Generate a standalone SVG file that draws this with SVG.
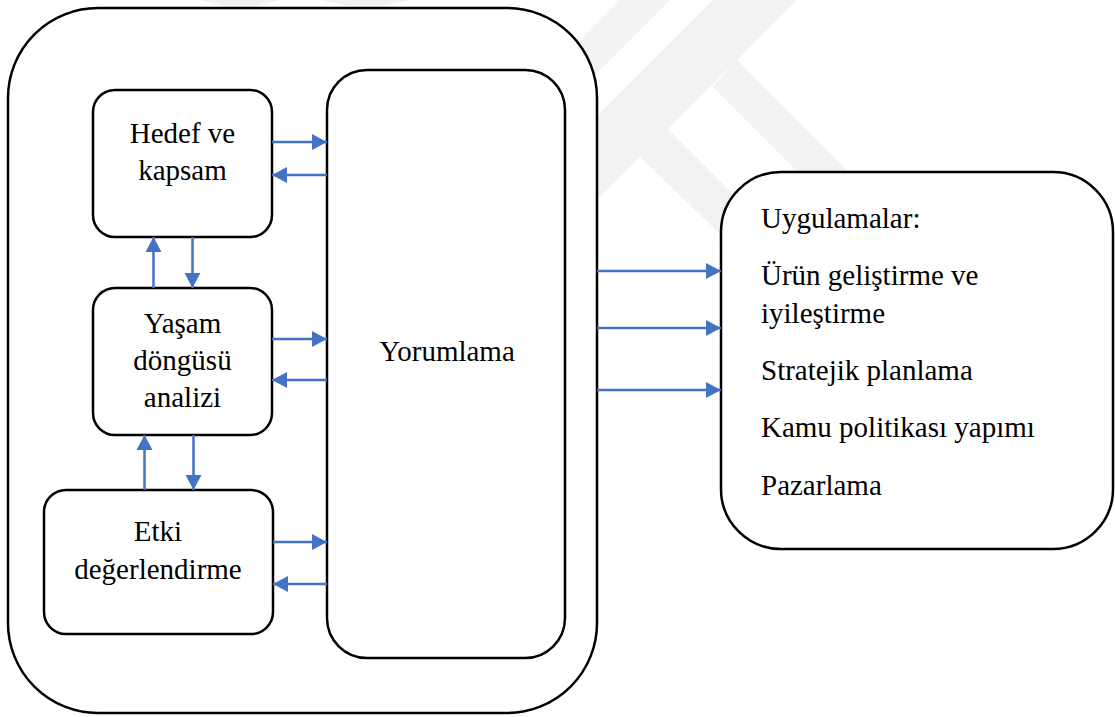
<svg xmlns="http://www.w3.org/2000/svg" width="1115" height="717" viewBox="0 0 1115 717">
  <defs>
    <style>
      .box { fill: #ffffff; stroke: #000000; stroke-width: 2.5; }
      .link { stroke: #4472C4; stroke-width: 2.5; fill: none; marker-end: url(#head); }
      .mark { fill: #f2f2f2; }
    </style>
    <marker id="head" markerUnits="userSpaceOnUse" markerWidth="15" markerHeight="16" refX="15" refY="8" orient="auto">
      <path d="M0,0 L15,8 L0,16 z" fill="#4472C4"/>
    </marker>
  </defs>

  <rect width="1115" height="717" fill="#ffffff"/>

  <!-- faint background emblem -->
  <g id="emblem">
    <polygon class="mark" points="620,0 670,0 560,110 510,110"/>
    <polygon class="mark" points="713,0 797,0 597,200 597,116"/>
    <polygon class="mark" points="737,60 713,87 820,194 871,194"/>
    <polygon class="mark" points="640,157 668,129 780,241 727,241"/>
    <polygon class="mark" points="200,0 280,0 240,10"/>
    <polygon class="mark" points="320,0 410,0 365,10"/>
  </g>

  <!-- frame -->
  <g id="frame">
    <rect class="box" x="8" y="8" width="589" height="705" rx="90" ry="90"/>
  </g>

  <g font-family="'Liberation Serif', Tinos, 'Times New Roman', 'DejaVu Serif', serif" font-size="29" fill="#000000">
    <g id="hedef" text-anchor="middle">
      <rect class="box" x="93" y="90" width="179" height="147" rx="22" ry="22"/>
      <text x="182.5" y="143">Hedef ve</text>
      <text x="182.5" y="180">kapsam</text>
    </g>

    <g id="yasam" text-anchor="middle">
      <rect class="box" x="93" y="288" width="179" height="147" rx="22" ry="22"/>
      <text x="182.5" y="333">Yaşam</text>
      <text x="182.5" y="370">döngüsü</text>
      <text x="182.5" y="407">analizi</text>
    </g>

    <g id="etki" text-anchor="middle">
      <rect class="box" x="44" y="490" width="229" height="144" rx="22" ry="22"/>
      <text x="158" y="541">Etki</text>
      <text x="158" y="579">değerlendirme</text>
    </g>

    <g id="yorumlama" text-anchor="middle">
      <rect class="box" x="327" y="70" width="238" height="588" rx="40" ry="40"/>
      <text x="447" y="361">Yorumlama</text>
    </g>

    <g id="uygulamalar">
      <rect class="box" x="721" y="172" width="392" height="377" rx="60" ry="60"/>
      <text x="761" y="228">Uygulamalar:</text>
      <text x="761" y="285">Ürün geliştirme ve</text>
      <text x="761" y="323">iyileştirme</text>
      <text x="761" y="380">Stratejik planlama</text>
      <text x="761" y="437">Kamu politikası yapımı</text>
      <text x="761" y="495">Pazarlama</text>
    </g>
  </g>

  <g id="connectors">
    <line class="link" x1="272" y1="142" x2="327" y2="142"/>
    <line class="link" x1="327" y1="175" x2="272" y2="175"/>
    <line class="link" x1="153.5" y1="288" x2="153.5" y2="237"/>
    <line class="link" x1="192.5" y1="237" x2="192.5" y2="288"/>
    <line class="link" x1="272" y1="339" x2="327" y2="339"/>
    <line class="link" x1="327" y1="380" x2="272" y2="380"/>
    <line class="link" x1="144.5" y1="490" x2="144.5" y2="435"/>
    <line class="link" x1="193.5" y1="435" x2="193.5" y2="490"/>
    <line class="link" x1="273" y1="542" x2="327" y2="542"/>
    <line class="link" x1="327" y1="584" x2="273" y2="584"/>
    <line class="link" x1="597" y1="271" x2="721" y2="271"/>
    <line class="link" x1="597" y1="328" x2="721" y2="328"/>
    <line class="link" x1="597" y1="390" x2="721" y2="390"/>
  </g>
</svg>
